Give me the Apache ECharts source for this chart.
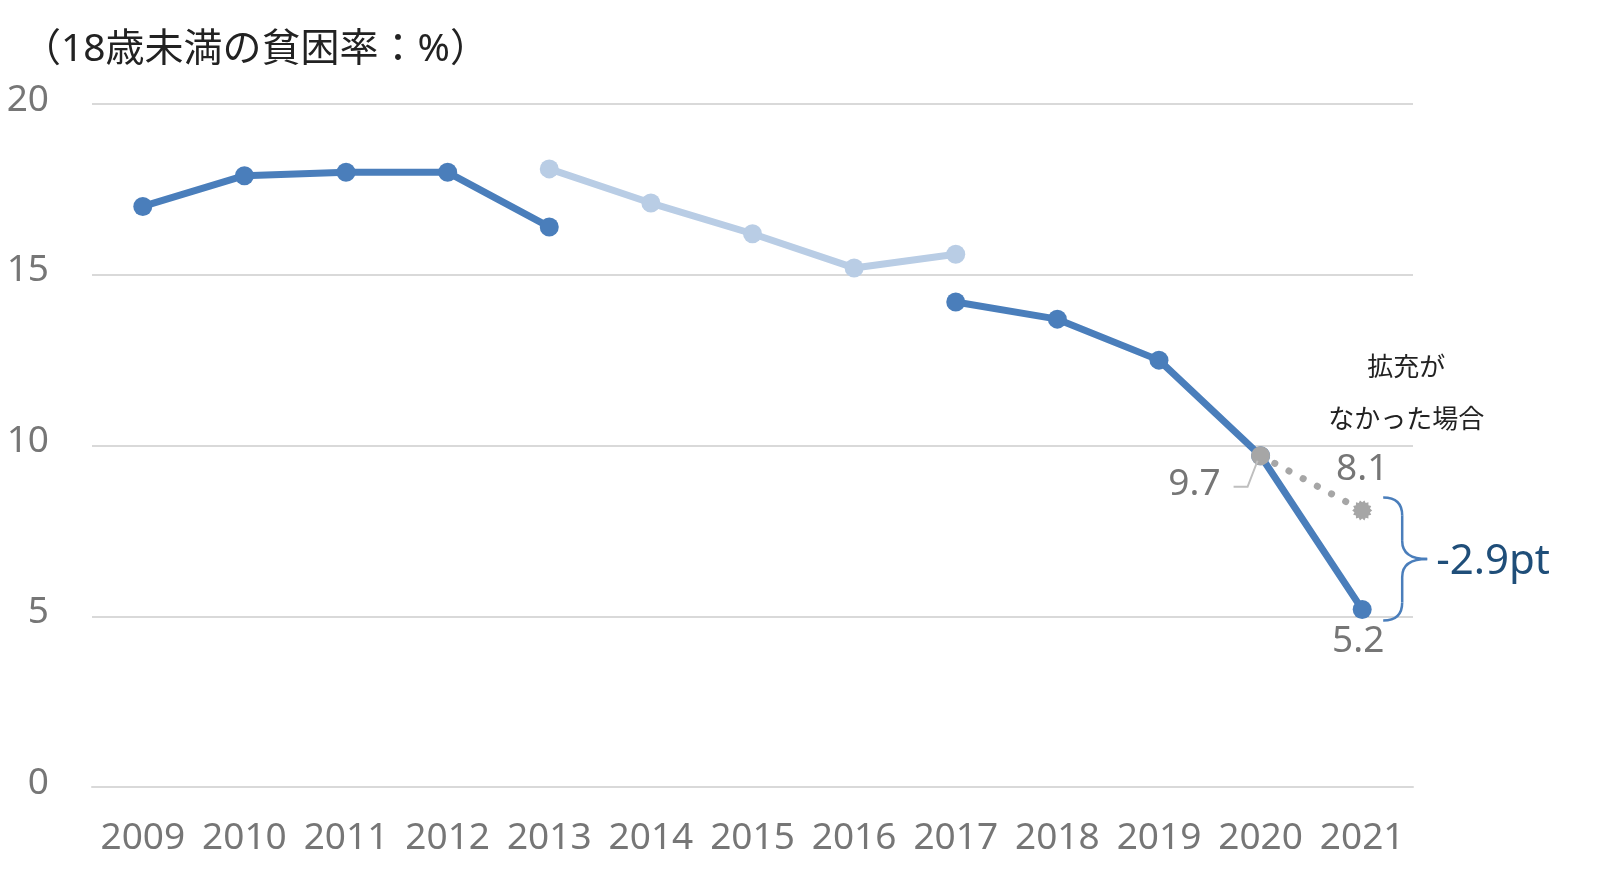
<!DOCTYPE html>
<html><head><meta charset="utf-8">
<script src="https://cdn.jsdelivr.net/npm/echarts@6/dist/echarts.min.js"></script>
<style>html,body{margin:0;padding:0;background:#fff}#c{width:1600px;height:883px}</style>
</head><body><div id="c"></div>
<script>
const years = ['2009','2010','2011','2012','2013','2014','2015','2016','2017','2018','2019','2020','2021'];
const seriesA = [17.0, 17.9, 18.0, 18.0, 16.4, null, null, null, null, null, null, null, null];
const seriesB = [null, null, null, null, 18.1, 17.1, 16.2, 15.2, 15.6, null, null, null, null];
const seriesC = [null, null, null, null, null, null, null, null, 14.2, 13.7, 12.5, 9.7, 5.2];
const seriesD = [null, null, null, null, null, null, null, null, null, null, null, 9.7, 8.1];
const yTicks = [0, 5, 10, 15, 20];
const titleText = '（18歳未満の貧困率：%）';
const noteLine1 = '拡充が';
const noteLine2 = 'なかった場合';
const diffText = '-2.9pt';

const DARK = '#4a7ebb', LIGHT = '#b9cde5', GRAY = '#a6a6a6', TXT = '#767676', NAVY = '#1f4e79';
const FONT = "'Noto Sans', 'Noto Sans CJK JP', sans-serif";
// jagged "sunburst" marker shape
let star = 'path://';
for (let k = 0; k < 28; k++) {
  const a = Math.PI * 2 * k / 28, r = k % 2 ? 80 : 100;
  star += (k ? 'L' : 'M') + (100 + r * Math.cos(a)).toFixed(1) + ',' + (100 + r * Math.sin(a)).toFixed(1);
}
star += 'Z';
const chart = echarts.init(document.getElementById('c'), null, {renderer: 'canvas'});
const lineS = (data, color, z) => ({
  type: 'line', data, z, connectNulls: false, symbol: 'circle', symbolSize: 19,
  lineStyle: {color, width: 7}, itemStyle: {color}, silent: true, animation: false
});
const sD = lineS(seriesD, GRAY, 4);
sD.lineStyle = {color: GRAY, width: 7, type: [0.1, 16], cap: 'round'};
sD.symbol = (v, p) => p.dataIndex === 12 ? star : 'circle';
sD.symbolSize = (v, p) => p.dataIndex === 12 ? 20 : 19;
chart.setOption({
  animation: false,
  grid: {left: 92, right: 187, top: 104, bottom: 96},
  xAxis: {
    type: 'category', data: years, boundaryGap: true,
    axisLine: {lineStyle: {color: '#d9d9d9', width: 2}}, axisTick: {show: false},
    axisLabel: {color: TXT, fontSize: 37, fontFamily: FONT, margin: 33, interval: 0, hideOverlap: false}
  },
  yAxis: {
    type: 'value', min: yTicks[0], max: yTicks[yTicks.length - 1], interval: 5,
    axisLine: {show: false}, axisTick: {show: false},
    splitLine: {lineStyle: {color: '#d9d9d9', width: 2}},
    axisLabel: {
      margin: 43, formatter: '{a|{value}}',
      rich: {a: {color: TXT, fontSize: 37, fontFamily: FONT, padding: [0, 0, 8, 0]}}
    }
  },
  series: [lineS(seriesA, DARK, 2), lineS(seriesB, LIGHT, 2), lineS(seriesC, DARK, 3), sD]
});

const px = (i, v) => chart.convertToPixel({seriesIndex: 0}, [i, v]);
const p20 = px(11, seriesC[11]);
const p21 = px(12, seriesC[12]);
const p21d = px(12, seriesD[12]);
const gx = p21[0] + 21, sx = gx + 19, tx = gx + 44;
const yT = p21d[1] - 13, yB = p21[1] + 11, yM = (yT + yB) / 2;
const bs = {stroke: DARK, lineWidth: 2.5, fill: null};
const bz = (x1, y1, cx, cy, x2, y2) => ({type: 'bezierCurve', z: 10, shape: {x1, y1, cpx1: cx, cpy1: cy, x2, y2}, style: bs});
const ln = (x1, y1, x2, y2) => ({type: 'line', z: 10, shape: {x1, y1, x2, y2}, style: bs});
const tstyle = (text, x, y, size, color, align) => ({
  type: 'text', x, y, z: 10,
  style: {text, fontSize: size, fontFamily: FONT, fill: color, align: align || 'center', verticalAlign: 'middle'}
});
chart.setOption({
  graphic: [
    tstyle(titleText, 22, 50, 39, '#222', 'left'),
    tstyle(noteLine1, p21[0] + 44, 369, 26, '#222'),
    tstyle(noteLine2, p21[0] + 44, 421, 26, '#222'),
    tstyle('9.7', p20[0] - 40, p20[1] + 29, 37, TXT, 'right'),
    {type: 'polyline', z: 10, shape: {points: [[p20[0] - 3, p20[1] + 5], [p20[0] - 13, p20[1] + 31], [p20[0] - 27, p20[1] + 31]]},
      style: {stroke: '#bfbfbf', lineWidth: 2, fill: null}},
    tstyle('8.1', p21d[0], p21d[1] - 41, 37, TXT),
    tstyle('5.2', p21[0] - 4, p21[1] + 32, 37, TXT),
    bz(gx, yT, sx, yT, sx, yT + 18),
    ln(sx, yT + 18, sx, yM - 18),
    bz(sx, yM - 18, sx, yM, tx, yM),
    bz(tx, yM, sx, yM, sx, yM + 18),
    ln(sx, yM + 18, sx, yB - 18),
    bz(sx, yB - 18, sx, yB, gx, yB),
    tstyle(diffText, tx + 9, yM + 3, 42, NAVY, 'left')
  ]
});
</script></body></html>
